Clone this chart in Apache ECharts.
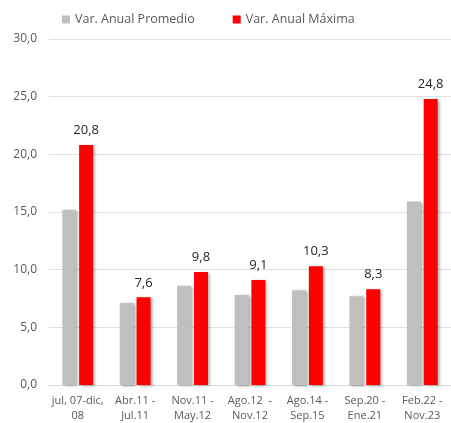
<!DOCTYPE html>
<html><head><meta charset="utf-8">
<script src="https://cdn.jsdelivr.net/npm/echarts@6/dist/echarts.min.js"></script>
<style>html,body{margin:0;padding:0;background:#fff}#c{width:451px;height:423px}</style>
</head><body><div id="c"></div>
<script>
const categories = ['jul, 07-dic,\n08', 'Abr.11 -\nJul.11', 'Nov.11 -\nMay.12', 'Ago.12  -\nNov.12', 'Ago.14 -\nSep.15', 'Sep.20 -\nEne.21', 'Feb.22 -\nNov.23'];
const promedio = [15.2, 7.1, 8.6, 7.8, 8.2, 7.7, 15.9];
const maxima = [20.8, 7.6, 9.8, 9.1, 10.3, 8.3, 24.8];
const yTicks = [0, 5, 10, 15, 20, 25, 30];
const font = 'Open Sans';
const chart = echarts.init(document.getElementById('c'));
const shadow = {shadowColor: 'rgba(0,0,0,0.35)', shadowBlur: 3, shadowOffsetX: 2, shadowOffsetY: 1};
chart.setOption({
  animation: false,
  textStyle: {fontFamily: font},
  legend: {
    top: 8, left: 57, itemWidth: 8, itemHeight: 8, itemGap: 38,
    icon: 'rect',
    textStyle: {color: '#595959', fontSize: 12.5, fontFamily: font},
    data: ['Var. Anual Promedio', 'Var. Anual Máxima']
  },
  grid: {left: 49, width: 408, top: 39, bottom: 34},
  xAxis: {
    type: 'category', data: categories,
    axisLine: {lineStyle: {color: '#d9d9d9'}},
    axisTick: {show: false},
    axisLabel: {color: '#595959', fontSize: 11, lineHeight: 15, margin: 8, interval: 0, fontFamily: font}
  },
  yAxis: {
    type: 'value', min: yTicks[0], max: yTicks[yTicks.length - 1], interval: 5,
    axisLine: {show: false}, axisTick: {show: false},
    splitLine: {lineStyle: {color: '#e0e0e0'}},
    axisLabel: {color: '#595959', fontSize: 12, margin: 12, fontFamily: font,
      formatter: v => v.toFixed(1).replace('.', ',')}
  },
  series: [
    {name: 'Var. Anual Promedio', type: 'bar', data: promedio, barWidth: 14, barGap: '20%',
      itemStyle: Object.assign({color: '#bfbfbf'}, shadow)},
    {name: 'Var. Anual Máxima', type: 'bar', data: maxima, barWidth: 14,
      itemStyle: Object.assign({color: '#ff0000'}, shadow),
      label: {show: true, position: 'top', distance: 8, color: '#262626', fontSize: 13, fontFamily: font,
        formatter: p => p.value.toFixed(1).replace('.', ',')}}
  ]
});
</script></body></html>
